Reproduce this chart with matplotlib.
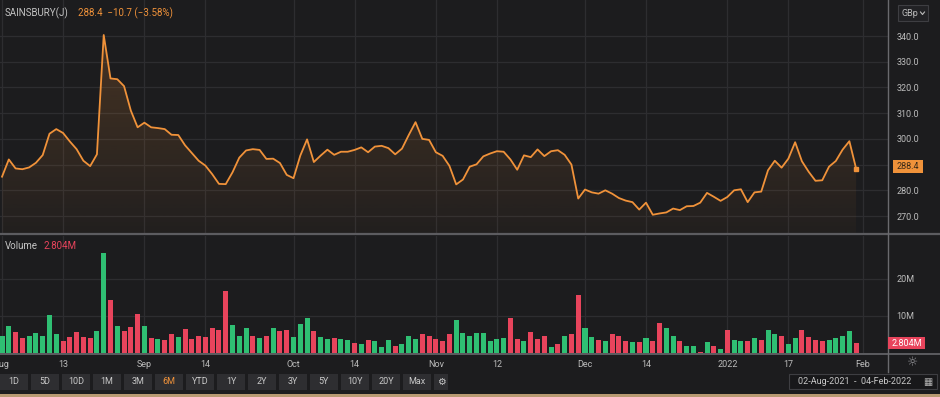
import numpy as np
import pandas as pd
import matplotlib
matplotlib.use("Agg")
import matplotlib.pyplot as plt
from matplotlib.patches import Rectangle
from matplotlib.lines import Line2D
from matplotlib.ticker import FormatStrFormatter

plt.rcParams["font.family"] = ["Roboto", "DejaVu Sans"]

# --- data (GBp close, volume in millions, up/down colour of each bar) ---
close = [
    285.3, 292.0, 288.5, 288.2, 288.9, 290.7, 293.7, 302.0, 303.8, 302.3,
    299.0, 296.0, 291.5, 289.4, 294.0, 340.4, 323.5, 323.2, 320.5, 311.0,
    304.5, 306.3, 304.5, 304.2, 303.8, 301.6, 301.5, 297.5, 294.5, 291.5,
    289.6, 286.3, 282.5, 282.4, 287.0, 292.7, 295.5, 296.0, 295.7, 292.2,
    292.3, 290.6, 286.0, 284.7, 293.5, 299.8, 291.0, 293.5, 295.8, 293.8,
    295.0, 295.0, 295.7, 296.7, 294.8, 297.0, 297.3, 296.4, 294.0, 296.2,
    301.5, 306.5, 300.0, 299.6, 294.8, 293.4, 289.5, 282.3, 284.2, 289.2,
    290.1, 293.2, 294.3, 295.2, 295.0, 292.0, 288.0, 293.6, 292.9, 295.9,
    293.3, 295.2, 295.6, 293.8, 290.0, 276.8, 280.3, 279.2, 278.7, 280.0,
    278.7, 277.0, 276.0, 275.4, 272.5, 275.2, 270.5, 271.0, 271.4, 272.9,
    272.3, 273.8, 273.9, 275.2, 279.0, 277.5, 275.9, 277.4, 280.0, 280.4,
    275.4, 279.2, 279.5, 287.8, 291.5, 288.8, 292.3, 298.7, 291.3, 287.2,
    283.7, 283.9, 289.2, 291.4, 295.8, 299.1, 288.4,
]
volume = [
    4.5, 7.4, 5.6, 4.0, 4.5, 5.5, 4.7, 10.2, 5.1, 3.2,
    4.3, 5.6, 4.3, 4.1, 5.8, 26.8, 14.4, 7.4, 6.0, 6.9,
    10.6, 7.4, 4.1, 3.8, 3.4, 5.0, 4.3, 6.4, 3.7, 4.7,
    4.3, 6.8, 6.3, 16.8, 7.6, 4.5, 6.8, 4.5, 4.0, 4.5,
    6.7, 5.9, 6.3, 4.3, 7.9, 9.5, 5.9, 4.3, 3.8, 4.1,
    3.8, 3.4, 2.7, 2.5, 3.4, 3.2, 1.6, 3.6, 1.8, 2.3,
    4.7, 3.8, 5.1, 4.5, 3.8, 3.2, 5.1, 9.0, 5.5, 4.5,
    5.5, 5.5, 3.2, 3.8, 4.0, 9.4, 3.8, 3.2, 5.6, 3.8,
    4.5, 1.6, 2.5, 4.6, 5.1, 15.5, 6.7, 4.3, 3.6, 3.2,
    5.1, 4.6, 3.3, 3.0, 3.0, 4.0, 3.1, 8.2, 6.7, 4.6,
    3.3, 2.0, 1.9, 0.4, 3.0, 2.0, 1.0, 6.3, 3.4, 3.3,
    3.2, 4.0, 3.4, 6.3, 5.1, 4.5, 2.4, 4.0, 6.3, 4.3,
    3.4, 3.2, 3.6, 4.0, 4.7, 5.9, 2.804,
]
bar_dir = ("ggrrgggggr" "rrrrggrgrr" "rgrgrrgrrr" "rrrrgggrgr" "grrgggrggr"
           "ggrgrgggrg" "ggrrrrrggg" "gggggrrgrr" "rgrgrrggrg" "rrrgrgrrgg"
           "rggrgrgrgg" "rgrggrggrr" "rrggggr")

holidays = ["2021-08-30", "2021-12-27", "2021-12-28", "2022-01-03"]
tick_dates = ["2021-08-02", "2021-08-13", "2021-09-01", "2021-09-14", "2021-10-01",
              "2021-10-14", "2021-11-01", "2021-11-12", "2021-12-01", "2021-12-14",
              "2022-01-04", "2022-01-17", "2022-02-01"]
tick_labels = ["Aug", "13", "Sep", "14", "Oct", "14", "Nov", "12", "Dec", "14",
               "2022", "17", "Feb"]
price_ticks = [270, 280, 290, 300, 310, 320, 330, 340]
vol_ticks = [10, 20]
vol_tick_labels = ["10M", "20M"]
range_buttons = ["1D", "5D", "10D", "1M", "3M", "6M", "YTD", "1Y", "2Y", "3Y",
                 "5Y", "10Y", "20Y", "Max"]

# trading-day calendar (LSE)
days = pd.bdate_range("2021-08-02", "2022-02-04")
days = days[~days.isin(pd.to_datetime(holidays))]
tick_idx = [days.get_loc(pd.Timestamp(d)) for d in tick_dates]
x = np.arange(len(close))

# --- style ---
BG = "#1c1c1e"
GRID = "#2d2d30"
TXT = "#bcbcbc"
ORANGE = "#f0923a"
GREEN = "#2fbf73"
RED = "#e8445c"
W, H = 940, 397


def fx(px):
    return px / W


def fy(py):
    return 1 - py / H


fig = plt.figure(figsize=(9.4, 3.97), dpi=100, facecolor=BG)
ax = fig.add_axes([0, fy(233), fx(888), fy(0) - fy(233)], facecolor=BG)
axv = fig.add_axes([0, fy(353), fx(888), fy(236) - fy(353)], facecolor=BG, sharex=ax)

xmin, xmax = -0.3, 130.7
ymin, ymax = 263.4, 354.0

# price line with gradient fill
poly = ax.fill_between(x, close, ymin, color="none", lw=0)
grad = np.zeros((256, 1, 4))
grad[:, 0, :3] = matplotlib.colors.to_rgb(ORANGE)
grad[:, 0, 3] = np.linspace(0.03, 0.2, 256)
img = ax.imshow(grad, extent=[xmin, xmax, ymin, 340], origin="lower",
                aspect="auto", zorder=1)
img.set_clip_path(poly.get_paths()[0], transform=ax.transData)
ax.plot(x, close, color=ORANGE, lw=1.3, zorder=3)
ax.plot(x[-1], close[-1], "s", color=ORANGE, ms=3.5, zorder=4)

ax.set_xlim(xmin, xmax)
ax.set_ylim(ymin, ymax)
ax.set_yticks(price_ticks)
ax.yaxis.set_major_formatter(FormatStrFormatter("%.1f"))
ax.yaxis.tick_right()
ax.tick_params(axis="y", length=0, pad=6, labelsize=6.5, labelcolor=TXT)
ax.set_xticks(tick_idx)
ax.tick_params(axis="x", length=0, labelbottom=False)
ax.grid(True, color=GRID, lw=0.9)
ax.set_axisbelow(True)

# volume bars
colors = [GREEN if c == "g" else RED for c in bar_dir]
axv.bar(x, volume, width=0.74, color=colors, zorder=3)
axv.set_ylim(0, 31.5)
axv.set_yticks(vol_ticks)
axv.set_yticklabels(vol_tick_labels)
axv.yaxis.tick_right()
axv.tick_params(axis="y", length=0, pad=6, labelsize=6.5, labelcolor=TXT)
axv.set_xticks(tick_idx)
axv.set_xticklabels(tick_labels)
axv.tick_params(axis="x", length=0, pad=5, labelsize=6.5, labelcolor=TXT)
axv.grid(True, color=GRID, lw=0.9)
axv.set_axisbelow(True)

for a in (ax, axv):
    for s in a.spines.values():
        s.set_visible(False)

# separators and right axis line
fig.add_artist(Line2D([0, 1], [fy(234.5), fy(234.5)], color="#5c5c60", lw=1.6))
fig.add_artist(Line2D([0, 1], [fy(353.5), fy(353.5)], color="#5c5c60", lw=1.4))
fig.add_artist(Line2D([fx(888), fx(888)], [fy(0), fy(372)], color="#6a6a6e", lw=1.0))

# header texts
fig.text(fx(5), fy(13), "SAINSBURY(J)", size=7, color="#c4c4c4", va="center")
fig.text(fx(78), fy(13), "288.4  \u221210.7 (\u22123.58%)", size=7, color=ORANGE, va="center")
fig.text(fx(5), fy(246), "Volume", size=7, color="#c4c4c4", va="center")
fig.text(fx(43), fy(246), "2.804M", size=7, color=RED, va="center")

# unit selector
fig.add_artist(Rectangle((fx(898), fy(21)), fx(30), fy(5) - fy(21), transform=fig.transFigure,
                         facecolor="#222225", edgecolor="#3e3e42", lw=0.8))
fig.text(fx(902), fy(13), "GBp", size=6.5, color=TXT, va="center")
fig.add_artist(Line2D([fx(920.5), fx(922.5), fx(924.5)], [fy(12), fy(14.5), fy(12)],
                      color=TXT, lw=0.8))

# last value boxes
fig.add_artist(Rectangle((fx(892.5), fy(173)), fx(30), fy(160) - fy(173), transform=fig.transFigure,
                         facecolor=ORANGE, edgecolor="none", zorder=5))
fig.text(fx(907.5), fy(166.5), "288.4", size=6.5, color="#3a2a18", va="center", ha="center", zorder=6)
fig.add_artist(Rectangle((fx(888), fy(349)), fx(37), fy(337) - fy(349), transform=fig.transFigure,
                         facecolor=RED, edgecolor="none", zorder=5))
fig.text(fx(906.5), fy(343), "2.804M", size=6.5, color="white", va="center", ha="center", zorder=6)

# settings icon
fig.text(fx(913), fy(363), "\u263c", size=9, color="#9a9a9e", va="center", ha="center")

# range buttons
for i, lab in enumerate(range_buttons):
    cx = 14 + i * 31
    fig.add_artist(Rectangle((fx(cx - 14), fy(390)), fx(28), fy(374) - fy(390),
                             transform=fig.transFigure, facecolor="#2e2e31", edgecolor="none"))
    fig.text(fx(cx), fy(382), lab, size=6.5, va="center", ha="center",
             color=ORANGE if lab == "6M" else "#c8c8c8")
fig.add_artist(Rectangle((fx(434), fy(390)), fx(14), fy(374) - fy(390),
                         transform=fig.transFigure, facecolor="#2e2e31", edgecolor="none"))
fig.text(fx(441), fy(382), "\u2699", size=7, va="center", ha="center", color="#c8c8c8")

# date range box
fig.add_artist(Rectangle((fx(789), fy(389)), fx(148), fy(374) - fy(389), transform=fig.transFigure,
                         facecolor="#18181a", edgecolor="#3e3e42", lw=0.8))
fig.text(fx(855), fy(381.5), "02-Aug-2021  -  04-Feb-2022", size=6.5, va="center", ha="center",
         color="#c8c8c8")
fig.text(fx(928), fy(381.5), "\u25a6", size=7, va="center", ha="center", color="#b0b0b0")

# page edge strip
fig.add_artist(Rectangle((0, 0), 1, fy(394), transform=fig.transFigure,
                         facecolor="#b89a72", edgecolor="none"))

fig.savefig("out.png", dpi=100, facecolor=BG)
